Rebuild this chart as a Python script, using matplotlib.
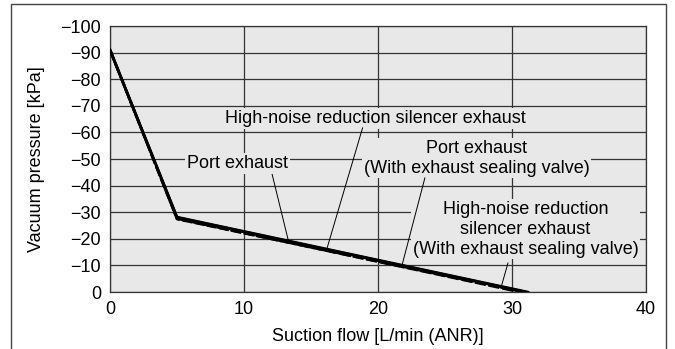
import matplotlib.pyplot as plt
from matplotlib.patches import Rectangle

plt.rcParams['font.family'] = ['Liberation Sans', 'DejaVu Sans']

# suction flow [L/min (ANR)] vs vacuum pressure [kPa]
flow_port = [0, 5, 31.0]
vac_port = [-91, -28, 0]
flow_silencer = [0, 5, 30.6]
vac_silencer = [-91, -27.6, 0]
flow_port_valve = [0, 5, 31.2]
vac_port_valve = [-91, -28.2, 0]
flow_silencer_valve = [0, 5, 30.8]
vac_silencer_valve = [-91, -27.4, 0]

labels = ['Port exhaust',
          'High-noise reduction silencer exhaust',
          'Port exhaust\n(With exhaust sealing valve)',
          'High-noise reduction\nsilencer exhaust\n(With exhaust sealing valve)']
label_x = [9.5, 19.8, 27.35, 31.0]
label_y = [-48.3, -65.2, -50.3, -23.6]
# leader lines: (x0, y0) at label, (x1, y1) on the curve
lead_x0 = [12.1, 18.85, 23.5, 29.7]
lead_y0 = [-44.2, -61.7, -42.9, -10.9]
lead_x1 = [13.3, 16.2, 21.8, 29.2]
lead_y1 = [-19.5, -16.5, -10.2, -2.0]

xticks = [0, 10, 20, 30, 40]
yticks = list(range(0, -101, -10))

fig = plt.figure(figsize=(6.75, 3.49), dpi=100)
ax = fig.add_axes([0.163, 0.1633, 0.794, 0.7622])
bg = '#e8e8e8'
ax.set_facecolor(bg)

ax.plot(flow_port, vac_port, color='black', lw=2.0, zorder=4)
ax.plot(flow_silencer, vac_silencer, color='black', lw=2.0, ls=(0, (4, 1)), zorder=4)
ax.plot(flow_port_valve, vac_port_valve, color='black', lw=1.8, zorder=4)
ax.plot(flow_silencer_valve, vac_silencer_valve, color='black', lw=1.8, ls=(0, (4, 1)), zorder=4)

for i in range(len(labels)):
    ax.plot([lead_x0[i], lead_x1[i]], [lead_y0[i], lead_y1[i]],
            color='black', lw=0.7, zorder=4)
    ax.text(label_x[i], label_y[i], labels[i], ha='center', va='center',
            fontsize=13, linespacing=1.22, zorder=3,
            bbox=dict(boxstyle='square,pad=0.1', facecolor=bg, edgecolor='none'))

ax.set_xlim(0, 40)
ax.set_ylim(0, -100)
ax.set_xticks(xticks)
ax.set_yticks(yticks)
ax.tick_params(length=0, labelsize=13, pad=6.5)
ax.set_axisbelow(True)
ax.grid(True, color='#333333', lw=0.9)
for s in ax.spines.values():
    s.set_color('#333333')
    s.set_linewidth(0.9)

ax.set_xlabel('Suction flow [L/min (ANR)]', fontsize=13, labelpad=7)
ax.set_ylabel('Vacuum pressure [kPa]', fontsize=13, labelpad=11)

# frame round the whole figure
fig.patches.append(Rectangle((11 / 675, -0.1), 655 / 675, 1.1 - 4 / 349,
                             transform=fig.transFigure, fill=False,
                             edgecolor='#444444', lw=1.0))

fig.savefig('out.png', dpi=100)
